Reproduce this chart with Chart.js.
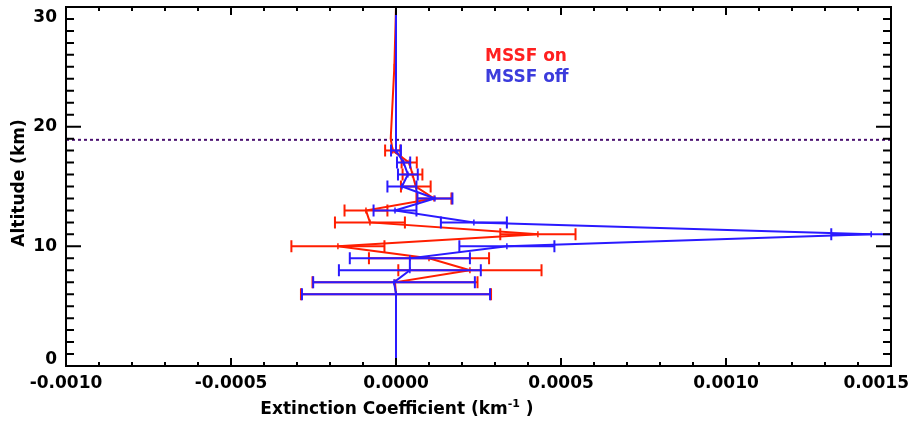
<!DOCTYPE html>
<html>
<head>
<meta charset="utf-8">
<script src="https://cdn.jsdelivr.net/npm/chart.js@4.4.1/dist/chart.umd.min.js"></script>
<style>
  html, body { margin: 0; padding: 0; background: #fff; }
  #wrap { width: 912px; height: 422px; }
</style>
</head>
<body>
<div id="wrap"><canvas id="profile" width="912" height="422"></canvas></div>
<script>
// Extinction profiles (km^-1) with +/- errors, by altitude
const altitudeKm = [0, 5, 6, 7, 8, 9, 10, 11, 12, 13, 14, 15, 16, 17, 18, 19, 25, 30];
const extOn = [0, 0, 0, -0.000003, 0.000224, 0.0001, -0.000176, 0.00043, -0.000079, -0.000091,
  0.000115, 0.00006, 0.00005, 0.00004, -0.00001, -0.000016, -0.000005, 0];
const errOn = [0, 0, 0.000288, 0.00025, 0.000217, 0.000182, 0.000141, 0.000114, 0.000106, 0.000065,
  0.000053, 0.000045, 0.00003, 0.000023, 0.000023, 0, 0, 0];
const extOff = [0, 0, 0, -0.000006, 0.000042, 0.000042, 0.000336, 0.00144, 0.000236, -0.000003,
  0.000118, 0.000018, 0.000036, 0.000023, 0, 0, 0, 0];
const errOff = [0, 0, 0.000285, 0.000245, 0.000215, 0.000182, 0.000144, 0.000121, 0.0001, 0.000065,
  0.000053, 0.000044, 0.00003, 0.00002, 0.000015, 0, 0, 0];

const xTickValues = [-0.0010, -0.0005, 0, 0.0005, 0.0010, 0.0015];
const xTickLabels = ['-0.0010', '-0.0005', '0.0000', '0.0005', '0.0010', '0.0015'];
const yTickValues = [0, 10, 20, 30];
const yTickLabels = ['0', '10', '20', '30'];
const tropopauseKm = 18.9;

const RED = '#ff1e00';
const BLUE = '#2a1aff';
const FONT = 'bold 17px "DejaVu Sans"';

function points(xs) {
  return altitudeKm.map((h, i) => ({ x: xs[i], y: h }));
}

const profileFrame = {
  id: 'profileFrame',
  beforeDatasetsDraw(chart) {
    const { ctx, chartArea: a, scales: { y } } = chart;
    const py = y.getPixelForValue(tropopauseKm);
    ctx.save();
    ctx.strokeStyle = '#4a1070';
    ctx.lineWidth = 2;
    ctx.setLineDash([3, 3]);
    ctx.beginPath();
    ctx.moveTo(a.left, py);
    ctx.lineTo(a.right, py);
    ctx.stroke();
    ctx.restore();
  },
  // horizontal error bars with end caps, drawn right after each profile
  afterDatasetDraw(chart, args) {
    const ds = chart.data.datasets[args.index];
    const { ctx, chartArea: a, scales: { x, y } } = chart;
    ctx.save();
    ctx.beginPath();
    ctx.rect(a.left, a.top, a.right - a.left, a.bottom - a.top);
    ctx.clip();
    ctx.strokeStyle = ds.borderColor;
    ctx.lineWidth = 2;
    ds.data.forEach((p, i) => {
      const e = ds.errors[i];
      if (!e) return;
      const py = y.getPixelForValue(p.y);
      const x0 = x.getPixelForValue(p.x - e);
      const x1 = x.getPixelForValue(p.x + e);
      ctx.beginPath();
      ctx.moveTo(x0, py); ctx.lineTo(x1, py);
      ctx.moveTo(x0, py - 6); ctx.lineTo(x0, py + 6);
      ctx.moveTo(x1, py - 6); ctx.lineTo(x1, py + 6);
      ctx.stroke();
    });
    ctx.restore();
  },
  afterDraw(chart) {
    const { ctx, chartArea: a, scales: { x, y } } = chart;
    ctx.save();
    ctx.strokeStyle = '#000';
    ctx.lineWidth = 2;
    ctx.strokeRect(a.left, a.top, a.right - a.left, a.bottom - a.top);

    // inward ticks on all four sides
    ctx.beginPath();
    for (let i = 0; i <= 25; i++) {
      const px = x.getPixelForValue(-0.001 + i * 0.0001);
      const len = i % 5 === 0 ? 8 : 4;
      ctx.moveTo(px, a.bottom); ctx.lineTo(px, a.bottom - len);
      ctx.moveTo(px, a.top); ctx.lineTo(px, a.top + len);
    }
    for (let k = 0; k <= 30; k++) {
      const py = y.getPixelForValue(k);
      const len = k % 10 === 0 ? 15 : 8;
      ctx.moveTo(a.left, py); ctx.lineTo(a.left + len, py);
      ctx.moveTo(a.right, py); ctx.lineTo(a.right - len, py);
    }
    ctx.stroke();

    ctx.fillStyle = '#000';
    ctx.font = FONT;
    ctx.textAlign = 'center';
    ctx.textBaseline = 'middle';
    const maxRight = chart.width - 3;
    xTickValues.forEach((v, i) => {
      const label = xTickLabels[i];
      const half = ctx.measureText(label).width / 2;
      const px = Math.min(x.getPixelForValue(v), maxRight - half);
      ctx.fillText(label, px, a.bottom + 18);
    });
    ctx.textAlign = 'right';
    yTickValues.forEach((v, i) => {
      const py = Math.min(Math.max(y.getPixelForValue(v), a.top + 11), a.bottom - 6);
      ctx.fillText(yTickLabels[i], a.left - 9, py);
    });

    // x title with superscript exponent
    const main = 'Extinction Coefficient (km';
    const sup = '-1';
    const tail = ' )';
    ctx.font = FONT;
    const wMain = ctx.measureText(main).width;
    const wTail = ctx.measureText(tail).width;
    ctx.font = 'bold 11px "DejaVu Sans"';
    const wSup = ctx.measureText(sup).width;
    let tx = 397 - (wMain + wSup + wTail) / 2;
    const ty = 410;
    ctx.textAlign = 'left';
    ctx.font = FONT;
    ctx.fillText(main, tx, ty);
    tx += wMain;
    ctx.font = 'bold 11px "DejaVu Sans"';
    ctx.fillText(sup, tx, ty - 6);
    tx += wSup;
    ctx.font = FONT;
    ctx.fillText(tail, tx, ty);

    // y title
    ctx.save();
    ctx.translate(20, 183);
    ctx.rotate(-Math.PI / 2);
    ctx.textAlign = 'center';
    ctx.fillText('Altitude (km)', 0, 0);
    ctx.restore();

    // legend text
    ctx.textAlign = 'left';
    ctx.fillStyle = '#ff2020';
    ctx.fillText('MSSF on', 485, 57);
    ctx.fillStyle = '#3c3cdc';
    ctx.fillText('MSSF off', 485, 78);
    ctx.restore();
  }
};

new Chart(document.getElementById('profile'), {
  type: 'scatter',
  data: {
    datasets: [
      {
        label: 'MSSF off',
        data: points(extOff),
        errors: errOff,
        showLine: true,
        borderColor: BLUE,
        borderWidth: 2,
        pointStyle: 'line',
        rotation: 90,
        pointRadius: 3,
        pointBorderWidth: 1.5,
        pointBorderColor: BLUE,
        order: 0
      },
      {
        label: 'MSSF on',
        data: points(extOn),
        errors: errOn,
        showLine: true,
        borderColor: RED,
        borderWidth: 2,
        pointStyle: 'line',
        rotation: 90,
        pointRadius: 3,
        pointBorderWidth: 1.5,
        pointBorderColor: RED,
        order: 1
      }
    ]
  },
  options: {
    responsive: false,
    animation: false,
    devicePixelRatio: 1,
    layout: { padding: { left: 66, right: 21, top: 7, bottom: 56 } },
    scales: {
      x: { type: 'linear', min: -0.001, max: 0.0015, display: false },
      y: { type: 'linear', min: 0, max: 30, display: false }
    },
    plugins: {
      legend: { display: false },
      tooltip: { enabled: false }
    }
  },
  plugins: [profileFrame]
});
</script>
</body>
</html>
